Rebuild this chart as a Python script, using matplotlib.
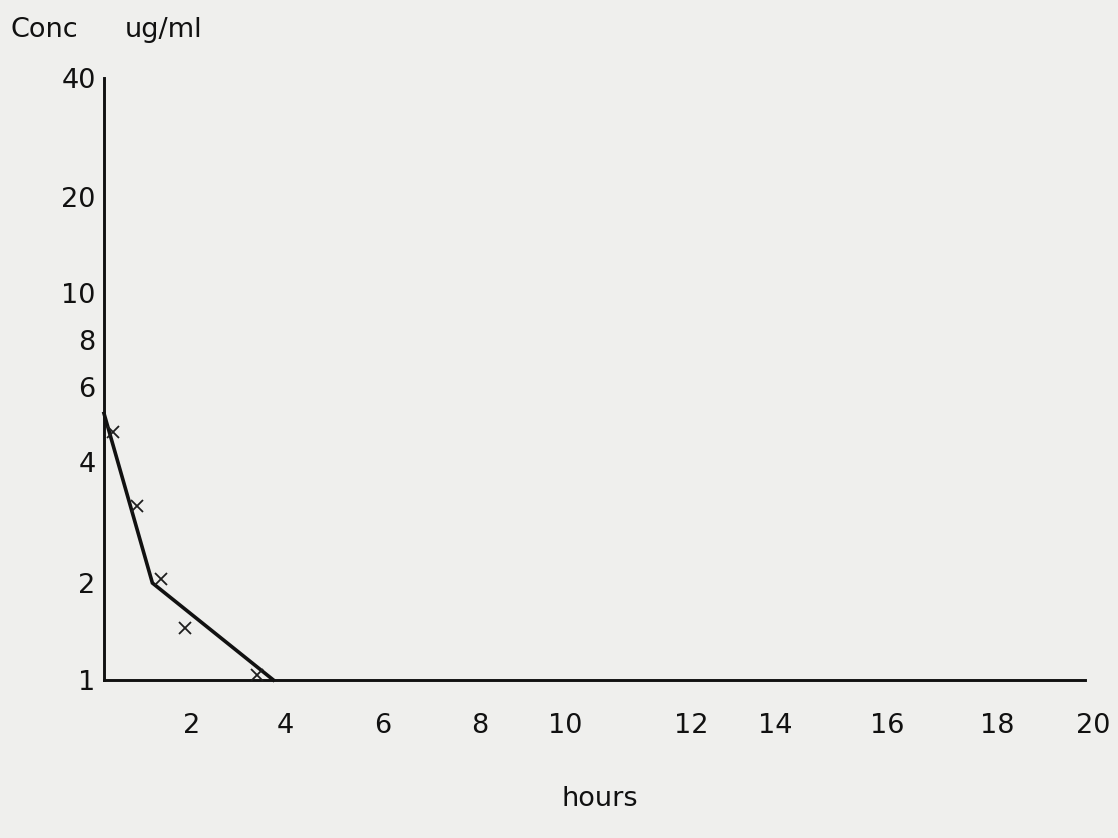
import numpy as np
import matplotlib
matplotlib.use("Agg")
import matplotlib.pyplot as plt

# observed concentrations (crosses)
hours_obs = [0.2, 0.75, 1.3, 1.85, 3.4]
conc_obs = [4.7, 3.1, 2.05, 1.45, 1.04]
# hand-drawn fitted line
hours_fit = [0.0, 1.1, 3.75]
conc_fit = [5.2, 2.0, 1.0]

x_ticks = [2, 4, 6, 8, 10, 12, 14, 16, 18, 20]
y_ticks = [1, 2, 4, 6, 8, 10, 20, 40]

W, H = 1118, 838
# the axes were drawn by hand, so the tick spacing is irregular:
# pixel position of each tick on the original sheet
X_PX = [104, 192, 285, 383, 480, 565, 691, 775, 887, 997, 1093]   # 0, 2, ..., 20
Y_PX = [680, 583, 462, 387, 340, 293, 197, 78]                   # 1, 2, ..., 40


def interp_ext(v, xp, fp):
    v = np.asarray(v, dtype=float)
    out = np.interp(v, xp, fp)
    lo = v < xp[0]
    hi = v > xp[-1]
    out = np.where(lo, fp[0] + (v - xp[0]) * (fp[1] - fp[0]) / (xp[1] - xp[0]), out)
    out = np.where(hi, fp[-1] + (v - xp[-1]) * (fp[-1] - fp[-2]) / (xp[-1] - xp[-2]), out)
    return out


x_vals = np.array([0] + x_ticks, dtype=float)
x_pos = np.array(X_PX, dtype=float)
y_logs = np.log(np.array(y_ticks, dtype=float))
y_pos = H - np.array(Y_PX, dtype=float)


def x_fwd(v):
    return interp_ext(v, x_vals, x_pos)


def x_inv(p):
    return interp_ext(p, x_pos, x_vals)


def y_fwd(v):
    with np.errstate(divide="ignore", invalid="ignore"):
        lv = np.log(np.clip(np.asarray(v, dtype=float), 1e-6, None))
    return interp_ext(lv, y_logs, y_pos)


def y_inv(p):
    return np.exp(interp_ext(p, y_pos, y_logs))


plt.rcParams["font.family"] = ["DejaVu Sans"]
paper = "#efefed"
ink = "#111111"
fs = 19.5

fig = plt.figure(figsize=(W / 100, H / 100), dpi=100, facecolor=paper)
ax = fig.add_axes([X_PX[0] / W, (H - Y_PX[0]) / H,
                   (X_PX[-1] - X_PX[0]) / W, (Y_PX[0] - Y_PX[-1]) / H])
ax.set_facecolor(paper)
ax.set_xscale("function", functions=(x_fwd, x_inv))
ax.set_yscale("function", functions=(y_fwd, y_inv))
ax.set_xlim(0, 20)
ax.set_ylim(1, 40)

ax.plot(hours_fit, conc_fit, color=ink, linewidth=2.6, solid_joinstyle="miter",
        clip_on=False, zorder=3)
ax.plot(hours_obs, conc_obs, linestyle="none", marker="x", markersize=9,
        markeredgewidth=1.3, color="#1e1e1e", clip_on=False, zorder=4)

for side in ["top", "right"]:
    ax.spines[side].set_visible(False)
for side in ["left", "bottom"]:
    ax.spines[side].set_linewidth(2.1)
    ax.spines[side].set_color(ink)
ax.spines["bottom"].set_bounds(0, float(x_inv(1085)))

ax.set_xticks(x_ticks)
ax.set_xticklabels([str(t) for t in x_ticks])
ax.set_yticks(y_ticks)
ax.set_yticklabels([str(t) for t in y_ticks])
ax.minorticks_off()
ax.tick_params(axis="x", length=0, pad=24, labelsize=fs, labelcolor=ink)
ax.tick_params(axis="y", length=0, pad=6, labelsize=fs, labelcolor=ink)

fig.text(10 / W, 1 - 37 / H, "Conc", fontsize=fs, color=ink, va="baseline")
fig.text(125 / W, 1 - 37 / H, "ug/ml", fontsize=fs, color=ink, va="baseline")
fig.text(600 / W, 1 - 806 / H, "hours", fontsize=fs, color=ink,
         ha="center", va="baseline")

fig.savefig("out.png", dpi=100, facecolor=paper)
